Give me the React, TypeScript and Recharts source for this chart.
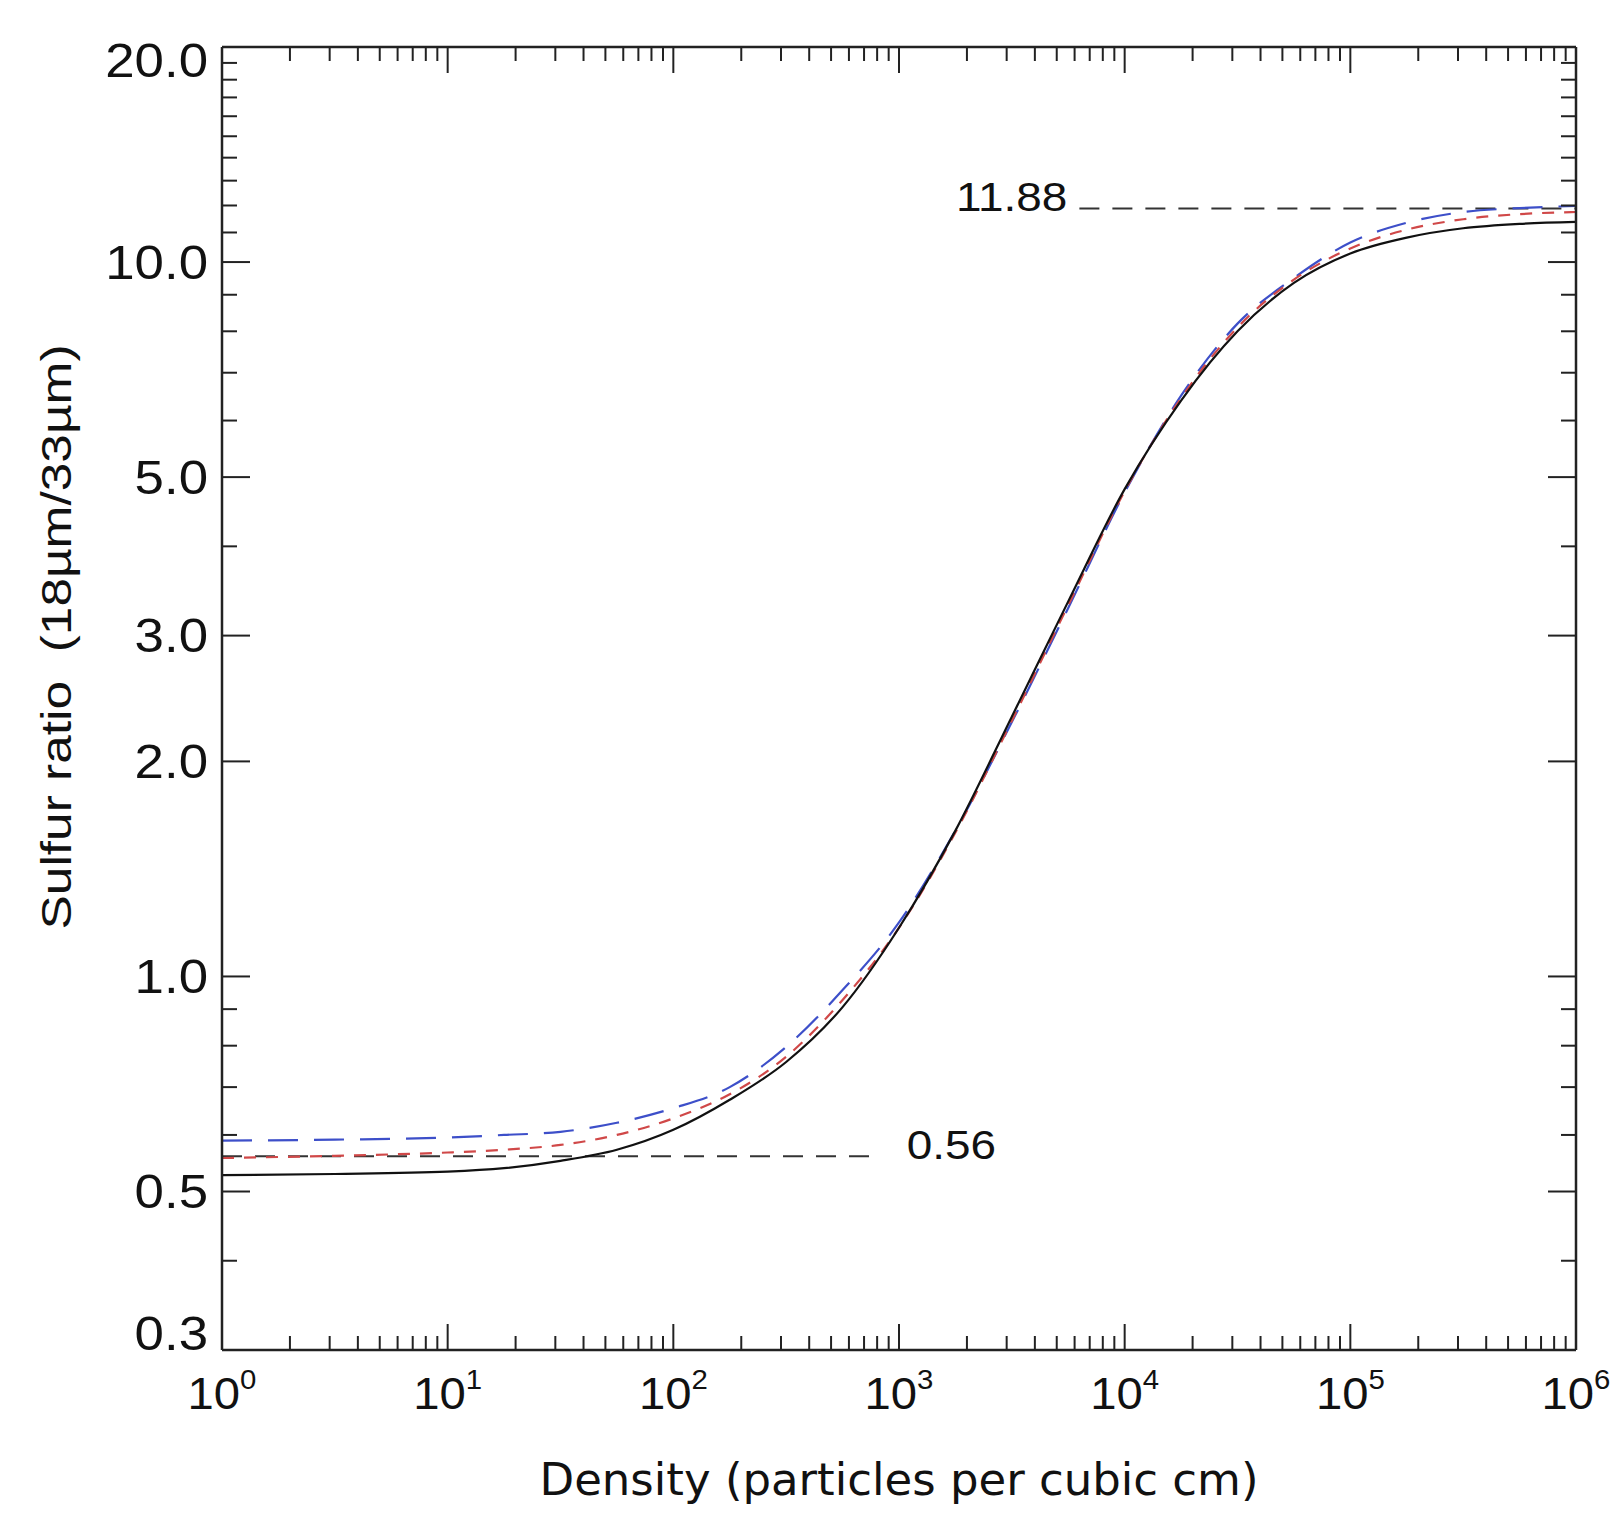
import React from 'react';
import { LineChart, Line, XAxis, YAxis, ReferenceLine } from 'recharts';

// Density (particles per cubic cm), sampled on the log axis
const densities = [
  1, 3.162, 10, 17.78, 31.62, 56.23, 100, 177.8, 316.2, 562.3, 1000, 1778, 3162,
  5623, 10000, 17783, 31623, 56234, 100000, 177828, 316228, 562341, 1000000,
];
// Sulfur ratio 18um/33um for the three models
const ratioSolid = [
  0.527, 0.529, 0.533, 0.539, 0.552, 0.572, 0.61, 0.672, 0.759, 0.906, 1.17, 1.6, 2.31,
  3.35, 4.81, 6.4, 8.0, 9.35, 10.28, 10.82, 11.15, 11.31, 11.38,
];
const ratioShortDash = [
  0.557, 0.561, 0.567, 0.572, 0.581, 0.6, 0.633, 0.684, 0.772, 0.927, 1.17, 1.59, 2.28,
  3.31, 4.78, 6.45, 8.1, 9.45, 10.45, 11.1, 11.48, 11.67, 11.75,
];
const ratioLongDash = [
  0.589, 0.591, 0.595, 0.6, 0.606, 0.624, 0.654, 0.7, 0.797, 0.957, 1.19, 1.6, 2.27,
  3.28, 4.76, 6.5, 8.2, 9.5, 10.65, 11.35, 11.75, 11.9, 11.98,
];

// Limits
const upperLimit = 11.88;
const upperLimitLabel = '11.88';
const upperLimitSpan = [6300, 1000000];
const lowerLimit = 0.56;
const lowerLimitLabel = '0.56';
const lowerLimitSpan = [1, 830];

// Axis ticks
const xMajorTicks = [1, 10, 100, 1000, 10000, 100000, 1000000];
const xMajorExponents = ['0', '1', '2', '3', '4', '5', '6'];
const xMinorMultipliers = [2, 3, 4, 5, 6, 7, 8, 9];
const yMajorTicks = [0.3, 0.5, 1, 2, 3, 5, 10, 20];
const yMajorLabels = ['0.3', '0.5', '1.0', '2.0', '3.0', '5.0', '10.0', '20.0'];
const yMinorTicks = [0.4, 0.6, 0.7, 0.8, 0.9, 4, 6, 7, 8, 9, 11, 12, 13, 14, 15, 16, 17, 18, 19];

const xTitle = 'Density (particles per cubic cm)';
const yTitle = 'Sulfur ratio  (18\u00b5m/33\u00b5m)';

const data = densities.map((d, i) => ({
  density: d,
  solid: ratioSolid[i],
  shortDash: ratioShortDash[i],
  longDash: ratioLongDash[i],
}));

const xMinorTicks: number[] = [];
xMajorTicks.slice(0, -1).forEach((m) => xMinorMultipliers.forEach((k) => xMinorTicks.push(m * k)));
const xAllTicks = [...xMajorTicks, ...xMinorTicks].sort((a, b) => a - b);
const yAllTicks = [...yMajorTicks, ...yMinorTicks].sort((a, b) => a - b);

const FONT = '"Liberation Sans", Arial, Helvetica, sans-serif';
const AXIS = '#222';

const isCorner = (v: number, arr: number[]) => v === arr[0] || v === arr[arr.length - 1];

const XTick = (side: 'bottom' | 'top') => (props: any) => {
  const { x, y, payload } = props;
  const v = payload.value;
  const mi = xMajorTicks.indexOf(v);
  const major = mi >= 0;
  const len = major ? 26 : 14;
  const dir = side === 'bottom' ? -1 : 1;
  return (
    <g>
      {!isCorner(v, xMajorTicks) && (
        <line x1={x} x2={x} y1={y} y2={y + dir * len} stroke={AXIS} strokeWidth={2} />
      )}
      {side === 'bottom' && major && (
        <text
          transform={`translate(${x},${y + 59}) scale(1.05,1)`}
          textAnchor="middle"
          fontFamily={FONT}
          fontSize={45}
          fill="#111"
        >
          <tspan>10</tspan>
          <tspan dy={-20} fontSize={28}>{xMajorExponents[mi]}</tspan>
        </text>
      )}
    </g>
  );
};

const YTick = (side: 'left' | 'right') => (props: any) => {
  const { x, y, payload } = props;
  const v = payload.value;
  const mi = yMajorTicks.indexOf(v);
  const major = mi >= 0;
  const len = major ? 28 : 15;
  const dir = side === 'left' ? 1 : -1;
  let shift = 0;
  if (v === yMajorTicks[0]) shift = -17;
  if (v === yMajorTicks[yMajorTicks.length - 1]) shift = 13;
  return (
    <g>
      {!isCorner(v, yMajorTicks) && (
        <line x1={x} x2={x + dir * len} y1={y} y2={y} stroke={AXIS} strokeWidth={2} />
      )}
      {side === 'left' && major && (
        <text
          transform={`translate(${x - 14},${y + shift}) scale(1.1,1)`}
          textAnchor="end"
          dominantBaseline="central"
          fontFamily={FONT}
          fontSize={48}
          fill="#111"
        >
          {yMajorLabels[mi]}
        </text>
      )}
    </g>
  );
};

const XTitle = (props: any) => {
  const vb = props.viewBox;
  return (
    <text
      x={vb.x + vb.width / 2}
      y={vb.y + 129}
      textAnchor="middle"
      dominantBaseline="central"
      fontFamily='"DejaVu Sans", sans-serif'
      fontSize={45}
      textLength={719}
      lengthAdjust="spacingAndGlyphs"
      fill="#111"
    >
      {xTitle}
    </text>
  );
};

const YTitle = () => {
  const cx = 56;
  const cy = 637;
  return (
    <text
      x={cx}
      y={cy}
      transform={`rotate(-90 ${cx} ${cy})`}
      textAnchor="middle"
      dominantBaseline="central"
      fontFamily={FONT}
      fontSize={42}
      textLength={585}
      lengthAdjust="spacingAndGlyphs"
      style={{ whiteSpace: 'pre' }}
      fill="#111"
    >
      {yTitle}
    </text>
  );
};

const UpperLabel = (props: any) => {
  const vb = props.viewBox;
  return (
    <text
      transform={`translate(${vb.x - 12},${vb.y - 12}) scale(1.12,1)`}
      textAnchor="end"
      dominantBaseline="central"
      fontFamily={FONT}
      fontSize={41}
      fill="#111"
    >
      {upperLimitLabel}
    </text>
  );
};

const LowerLabel = (props: any) => {
  const vb = props.viewBox;
  return (
    <text
      transform={`translate(${vb.x + vb.width + 26},${vb.y - 11}) scale(1.12,1)`}
      textAnchor="start"
      dominantBaseline="central"
      fontFamily={FONT}
      fontSize={41}
      fill="#111"
    >
      {lowerLimitLabel}
    </text>
  );
};

export default function App() {
  return (
    <div style={{ position: 'absolute', left: 0, top: 0, background: '#fff' }}>
      <LineChart
        width={1610}
        height={1513}
        data={data}
        margin={{ top: 46, right: 33, bottom: 0, left: 0 }}
      >
        <XAxis
          xAxisId="b"
          dataKey="density"
          type="number"
          scale="log"
          domain={[1, 1000000]}
          allowDataOverflow
          ticks={xAllTicks}
          interval={0}
          height={163}
          tickSize={0}
          tickMargin={0}
          tickLine={false}
          tick={XTick('bottom')}
          axisLine={{ stroke: AXIS, strokeWidth: 2.5 }}
          label={<XTitle />}
        />
        <XAxis
          xAxisId="t"
          orientation="top"
          dataKey="density"
          type="number"
          scale="log"
          domain={[1, 1000000]}
          allowDataOverflow
          ticks={xAllTicks}
          interval={0}
          height={1}
          tickSize={0}
          tickMargin={0}
          tickLine={false}
          tick={XTick('top')}
          axisLine={{ stroke: AXIS, strokeWidth: 2.5 }}
        />
        <YAxis
          yAxisId="l"
          type="number"
          scale="log"
          domain={[0.3, 20]}
          allowDataOverflow
          ticks={yAllTicks}
          interval={0}
          width={222}
          tickSize={0}
          tickMargin={0}
          tickLine={false}
          tick={YTick('left')}
          axisLine={{ stroke: AXIS, strokeWidth: 2.5 }}
          label={<YTitle />}
        />
        <YAxis
          yAxisId="r"
          orientation="right"
          type="number"
          scale="log"
          domain={[0.3, 20]}
          allowDataOverflow
          ticks={yAllTicks}
          interval={0}
          width={1}
          tickSize={0}
          tickMargin={0}
          tickLine={false}
          tick={YTick('right')}
          axisLine={{ stroke: AXIS, strokeWidth: 2.5 }}
        />
        <ReferenceLine
          xAxisId="b"
          yAxisId="l"
          segment={[
            { x: upperLimitSpan[0], y: upperLimit },
            { x: upperLimitSpan[1], y: upperLimit },
          ]}
          stroke="#333"
          strokeWidth={2}
          strokeDasharray="20 13"
          label={<UpperLabel />}
        />
        <ReferenceLine
          xAxisId="b"
          yAxisId="l"
          segment={[
            { x: lowerLimitSpan[0], y: lowerLimit },
            { x: lowerLimitSpan[1], y: lowerLimit },
          ]}
          stroke="#333"
          strokeWidth={2}
          strokeDasharray="20 13"
          label={<LowerLabel />}
        />
        <Line
          xAxisId="b"
          yAxisId="l"
          type="monotone"
          dataKey="longDash"
          stroke="#3d4fc9"
          strokeWidth={2.2}
          strokeDasharray="30 16"
          dot={false}
          isAnimationActive={false}
        />
        <Line
          xAxisId="b"
          yAxisId="l"
          type="monotone"
          dataKey="shortDash"
          stroke="#d04848"
          strokeWidth={2.2}
          strokeDasharray="12 10"
          dot={false}
          isAnimationActive={false}
        />
        <Line
          xAxisId="b"
          yAxisId="l"
          type="monotone"
          dataKey="solid"
          stroke="#111"
          strokeWidth={2.2}
          dot={false}
          isAnimationActive={false}
        />
      </LineChart>
    </div>
  );
}
